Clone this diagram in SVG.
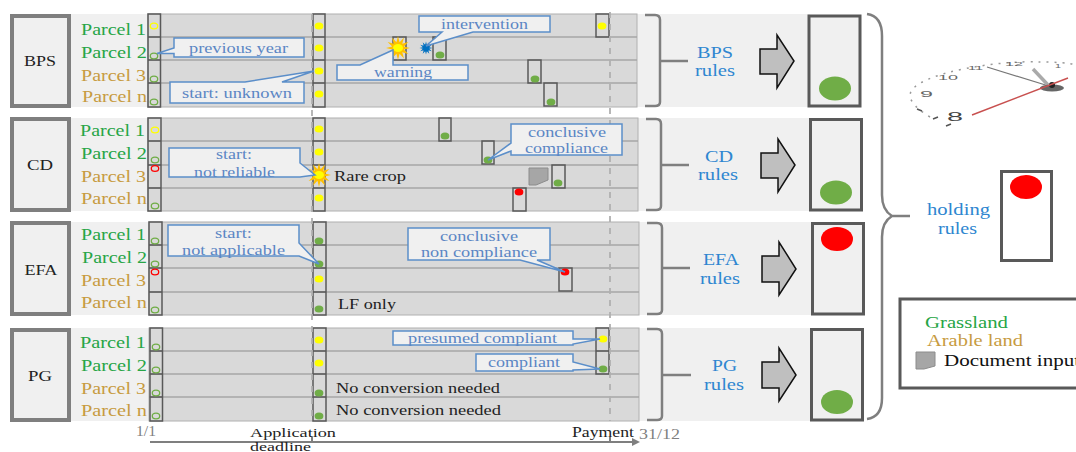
<svg xmlns="http://www.w3.org/2000/svg" width="1076" height="452" viewBox="0 0 1076 452">
<style>
text{font-family:"Liberation Serif","Times New Roman",serif;font-size:16px;letter-spacing:0}
.pn{fill:#f0f0f0}
.bar{fill:#d9d9d9;stroke:#b0b0b0;stroke-width:1}
.row{stroke:#a6a6a6;stroke-width:1.5;fill:none}
.head{fill:#f0f0f0;stroke:#7f7f7f;stroke-width:4}
.hl{fill:#222;font-size:15px;text-anchor:middle}
.g{fill:#27a546}.t{fill:#c79b3f}
.cell{fill:none;stroke:#595959;stroke-width:1.5}
.oy,.og,.or{fill:none;stroke-width:1.3;rx:3.7px;ry:2.9px}
.oy{stroke:#ffff00}.og{stroke:#70ad47}.or{stroke:#ff0000}
.y{fill:#ffff00}.gd{fill:#70ad47}.rd{fill:#ff0000}
.d{rx:4.4px;ry:3.6px}
.co{fill:#f0f0f0;stroke:#5b8ec9;stroke-width:1.5}
.ct{fill:#5b86c4;font-size:15.5px}
.bk{fill:#222;font-size:15px}
.tl{fill:#222;font-size:13px}
.dash{stroke:#b0b0b0;stroke-width:1.8;stroke-dasharray:6 6;fill:none}
.br{fill:none;stroke:#7f7f7f;stroke-width:2.5}
.ru{fill:#2e86d0;font-size:17px}
.ar{fill:#bfbfbf;stroke:#111;stroke-width:1.5}
.res{fill:#f0f0f0;stroke:#595959;stroke-width:3}
.gr{fill:#808080;font-size:14px}
.doc{fill:#a6a6a6;stroke:#8c8c8c;stroke-width:1}
.cn{font-family:"Liberation Sans",Arial,sans-serif;fill:#666}
</style>
<defs>
<polygon id="rays" points="12,0 5.800,1.550 10.400,6 4.240,4.240 6,10.400 1.550,5.800 0,12 -1.550,5.800 -6,10.400 -4.240,4.240 -10.400,6 -5.800,1.550 -12,0 -5.800,-1.550 -10.400,-6 -4.240,-4.240 -6,-10.400 -1.550,-5.800 0,-12 1.550,-5.800 6,-10.400 4.240,-4.240 10.400,-6 5.800,-1.550"/>
<g id="sun"><use href="#rays" fill="#ffc000"/><ellipse rx="5" ry="4" fill="#ffff00"/></g>
<g id="star"><use href="#rays" fill="#0070c0" transform="scale(.55)"/><circle r="3.200" fill="#0070c0"/></g>
</defs>
<rect width="1076" height="452" fill="#fff"/>

<g id="panel-bps">
<rect class="pn" x="10" y="14" width="800" height="93"/>
<rect class="bar" x="148" y="14" width="489" height="93"/>
<path class="row" d="M148 37H637M148 60H637M148 83H637"/>
<rect class="head" x="12" y="16" width="57" height="90"/>
<text class="hl" x="40" y="66" textLength="32" lengthAdjust="spacingAndGlyphs">BPS</text>
<text class="g" x="81" y="35" textLength="65" lengthAdjust="spacingAndGlyphs">Parcel 1</text>
<text class="g" x="81" y="58" textLength="66" lengthAdjust="spacingAndGlyphs">Parcel 2</text>
<text class="t" x="81" y="81" textLength="65" lengthAdjust="spacingAndGlyphs">Parcel 3</text>
<text class="t" x="82" y="102" textLength="65" lengthAdjust="spacingAndGlyphs">Parcel n</text>
<path class="cell" d="M148 14H160.500V107H148ZM148 37H160.500M148 60H160.500M148 83H160.500"/>
<path class="cell" d="M313 14H325V107H313ZM313 37H325M313 60H325M313 83H325"/>
<ellipse class="oy" cx="154" cy="26"/><ellipse class="og" cx="154" cy="56"/><ellipse class="og" cx="154" cy="79"/><ellipse class="og" cx="154" cy="102"/>
<ellipse class="y d" cx="319" cy="26"/><ellipse class="y d" cx="319" cy="48"/><ellipse class="y d" cx="319" cy="71"/><ellipse class="y d" cx="319" cy="94"/>
<rect class="cell" x="393" y="37" width="13" height="23"/><use href="#sun" x="398" y="48"/>
<use href="#star" x="426" y="48"/>
<rect class="cell" x="433" y="37" width="13" height="23"/><ellipse class="gd d" cx="440" cy="55"/>
<rect class="cell" x="596" y="14" width="13" height="23"/><ellipse class="y d" cx="602" cy="26"/>
<rect class="cell" x="528" y="60" width="13" height="23"/><ellipse class="gd d" cx="535" cy="79"/>
<rect class="cell" x="544" y="83" width="13" height="23"/><ellipse class="gd d" cx="551" cy="102"/>
</g>

<g id="panel-cd">
<rect class="pn" x="10" y="118" width="800" height="93"/>
<rect class="bar" x="148" y="118" width="490" height="93"/>
<path class="row" d="M148 141H638M148 165H638M148 188H638"/>
<rect class="head" x="12" y="119" width="57" height="91"/>
<text class="hl" x="40" y="170" textLength="26" lengthAdjust="spacingAndGlyphs">CD</text>
<text class="g" x="80" y="136" textLength="65" lengthAdjust="spacingAndGlyphs">Parcel 1</text>
<text class="g" x="81" y="159" textLength="66" lengthAdjust="spacingAndGlyphs">Parcel 2</text>
<text class="t" x="81" y="182" textLength="65" lengthAdjust="spacingAndGlyphs">Parcel 3</text>
<text class="t" x="81" y="204" textLength="66" lengthAdjust="spacingAndGlyphs">Parcel n</text>
<path class="cell" d="M148 118H161V211H148ZM148 141H161M148 165H161M148 188H161"/>
<path class="cell" d="M313 118H325V211H313ZM313 141H325M313 165H325M313 188H325"/>
<ellipse class="oy" cx="155" cy="130"/><ellipse class="og" cx="155" cy="160"/><ellipse class="or" cx="155" cy="168.500"/><ellipse class="og" cx="155" cy="206"/>
<ellipse class="y d" cx="319" cy="129"/><ellipse class="y d" cx="319" cy="152"/><ellipse class="y d" cx="319" cy="198"/>
<use href="#sun" x="319" y="175"/>
<text class="bk" x="334" y="181" textLength="72" lengthAdjust="spacingAndGlyphs">Rare crop</text>
<rect class="cell" x="439" y="118" width="12" height="23"/><ellipse class="gd d" cx="445" cy="136"/>
<rect class="cell" x="482" y="141" width="12" height="23"/><ellipse class="gd d" cx="488" cy="160"/>
<rect class="cell" x="552" y="165" width="13" height="23"/><ellipse class="gd d" cx="558" cy="183"/>
<rect class="cell" x="513" y="188" width="13" height="23"/><ellipse class="rd d" cx="519" cy="192"/>
<path class="doc" d="M529 168H548V180L536 185H529Z"/>
</g>

<g id="panel-efa">
<rect class="pn" x="10" y="222" width="802" height="93"/>
<rect class="bar" x="149" y="222" width="490" height="93"/>
<path class="row" d="M149 245H639M149 268H639M149 292H639"/>
<rect class="head" x="12" y="223" width="57" height="91"/>
<text class="hl" x="41" y="275" textLength="33" lengthAdjust="spacingAndGlyphs">EFA</text>
<text class="g" x="81" y="240" textLength="65" lengthAdjust="spacingAndGlyphs">Parcel 1</text>
<text class="g" x="82" y="263" textLength="65" lengthAdjust="spacingAndGlyphs">Parcel 2</text>
<text class="t" x="81" y="286" textLength="65" lengthAdjust="spacingAndGlyphs">Parcel 3</text>
<text class="t" x="81" y="308" textLength="66" lengthAdjust="spacingAndGlyphs">Parcel n</text>
<path class="cell" d="M149 222H162V315H149ZM149 245H162M149 268H162M149 292H162"/>
<path class="cell" d="M313 222H326V315H313ZM313 245H326M313 268H326M313 292H326"/>
<ellipse class="og" cx="155" cy="241"/><ellipse class="og" cx="155" cy="264"/><ellipse class="or" cx="155" cy="272"/><ellipse class="og" cx="155" cy="310"/>
<ellipse class="gd d" cx="319" cy="241"/><ellipse class="gd d" cx="319" cy="264"/><ellipse class="y d" cx="319" cy="279"/><ellipse class="gd d" cx="319" cy="309"/>
<rect class="cell" x="559" y="268" width="13" height="23"/><ellipse class="rd d" cx="565" cy="272"/>
<text class="bk" x="338" y="309" textLength="58" lengthAdjust="spacingAndGlyphs">LF only</text>
</g>

<g id="panel-pg">
<rect class="pn" x="10" y="328" width="802" height="93"/>
<rect class="bar" x="149" y="328" width="490" height="93"/>
<path class="row" d="M149 351H639M149 374H639M149 397H639"/>
<rect class="head" x="12" y="330" width="57" height="90"/>
<text class="hl" x="40" y="381" textLength="24" lengthAdjust="spacingAndGlyphs">PG</text>
<text class="g" x="80" y="348" textLength="66" lengthAdjust="spacingAndGlyphs">Parcel 1</text>
<text class="g" x="81" y="371" textLength="66" lengthAdjust="spacingAndGlyphs">Parcel 2</text>
<text class="t" x="81" y="394" textLength="65" lengthAdjust="spacingAndGlyphs">Parcel 3</text>
<text class="t" x="81" y="416" textLength="66" lengthAdjust="spacingAndGlyphs">Parcel n</text>
<path class="cell" d="M150 328H162.500V421H150ZM150 351H162.500M150 374H162.500M150 397H162.500"/>
<path class="cell" d="M313 328H326V421H313ZM313 351H326M313 374H326M313 397H326"/>
<ellipse class="og" cx="156" cy="347"/><ellipse class="og" cx="156" cy="370"/><ellipse class="og" cx="156" cy="393"/><ellipse class="og" cx="156" cy="416"/>
<ellipse class="y d" cx="319" cy="340"/><ellipse class="y d" cx="319" cy="363"/><ellipse class="gd d" cx="319" cy="393"/><ellipse class="gd d" cx="319" cy="416"/>
<path class="cell" d="M596 328H609V374H596ZM596 351H609"/>
<ellipse class="y d" cx="603" cy="339"/><ellipse class="gd d" cx="603" cy="369"/>
<text class="bk" x="336" y="393" textLength="164" lengthAdjust="spacingAndGlyphs">No conversion needed</text>
<text class="bk" x="336" y="415" textLength="165" lengthAdjust="spacingAndGlyphs">No conversion needed</text>
</g>

<g id="connectors">
<path class="dash" d="M312 14V421M610 12V421"/>
<path class="br" d="M645 15H655Q660 15 660 20V102Q660 106 655 106H645M660 61H688"/>
<path class="br" d="M646 119H656Q661 119 661 124V206Q661 210 656 210H646M661 165H689"/>
<path class="br" d="M647 223H657Q662 223 662 228V310Q662 314 657 314H647M662 268H690"/>
<path class="br" d="M647 329H657Q662 329 662 334V416Q662 420 657 420H647M662 375H691"/>
<path class="br" d="M867 14Q882 16 882 36V195Q882 210 892 216H910M892 216Q882 222 882 237V398Q882 417 867 419"/>
<path class="ar" d="M760 49H777V35L794 61L777 88V74H760Z"/>
<path class="ar" d="M761 153H778V139L795 165L778 192V178H761Z"/>
<path class="ar" d="M762 256H779V242L796 269L779 295V282H762Z"/>
<path class="ar" d="M762 362H779V348L796 375L779 401V388H762Z"/>
<path d="M150 442H634" stroke="#7f7f7f" stroke-width="2" fill="none"/>
<path d="M312 437V442M610 437V442" stroke="#7f7f7f" stroke-width="2" fill="none"/>
<path d="M632 438L640 442L632 446Z" fill="#7f7f7f"/>
</g>

<g id="callout-previous-year">
<path class="co" d="M174 38H304V57H174V53.500L157 53.500L174 48Z"/>
<text class="ct" x="189" y="53" textLength="99" lengthAdjust="spacingAndGlyphs">previous year</text>
</g>
<g id="callout-start-unknown">
<path class="co" d="M170 82H245L314 71L282 82H304V103H170Z"/>
<text class="ct" x="182" y="98" textLength="110" lengthAdjust="spacingAndGlyphs">start: unknown</text>
</g>
<g id="callout-warning">
<path class="co" d="M337 65H360L393 50V65H468V80H337Z"/>
<text class="ct" x="374" y="77" textLength="58" lengthAdjust="spacingAndGlyphs">warning</text>
</g>
<g id="callout-intervention">
<path class="co" d="M419 16H550V32H473L426 46L442 32H419Z"/>
<text class="ct" x="441" y="29" textLength="87" lengthAdjust="spacingAndGlyphs">intervention</text>
</g>
<g id="callout-not-reliable">
<path class="co" d="M169 148H300V163L315 175L300 177H169Z"/>
<text class="ct" x="216" y="159" textLength="36" lengthAdjust="spacingAndGlyphs">start:</text>
<text class="ct" x="194" y="177" textLength="81" lengthAdjust="spacingAndGlyphs">not reliable</text>
</g>
<g id="callout-conclusive-compliance">
<path class="co" d="M511 124H622V155H511V151L488 160L511 143Z"/>
<text class="ct" x="528" y="137" textLength="78" lengthAdjust="spacingAndGlyphs">conclusive</text>
<text class="ct" x="525" y="153" textLength="83" lengthAdjust="spacingAndGlyphs">compliance</text>
</g>
<g id="callout-not-applicable">
<path class="co" d="M168 225H299V243L319 264L299 256H168Z"/>
<text class="ct" x="215" y="238" textLength="37" lengthAdjust="spacingAndGlyphs">start:</text>
<text class="ct" x="182" y="255" textLength="103" lengthAdjust="spacingAndGlyphs">not applicable</text>
</g>
<g id="callout-non-compliance">
<path class="co" d="M408 228H550V260H537L565 272L520 260H408Z"/>
<text class="ct" x="440" y="241" textLength="78" lengthAdjust="spacingAndGlyphs">conclusive</text>
<text class="ct" x="421" y="257" textLength="116" lengthAdjust="spacingAndGlyphs">non compliance</text>
</g>
<g id="callout-presumed">
<path class="co" d="M393 331H573V339L600 339L573 344V345H393Z"/>
<text class="ct" x="408" y="343" textLength="149" lengthAdjust="spacingAndGlyphs">presumed compliant</text>
</g>
<g id="callout-compliant">
<path class="co" d="M476 354H573V362L600 369L573 370V371H476Z"/>
<text class="ct" x="488" y="367" textLength="72" lengthAdjust="spacingAndGlyphs">compliant</text>
</g>

<g id="rules-bps"><text class="ru" x="697" y="58" textLength="36" lengthAdjust="spacingAndGlyphs">BPS</text><text class="ru" x="695" y="76" textLength="40" lengthAdjust="spacingAndGlyphs">rules</text></g>
<g id="rules-cd"><text class="ru" x="705" y="162" textLength="28" lengthAdjust="spacingAndGlyphs">CD</text><text class="ru" x="698" y="180" textLength="40" lengthAdjust="spacingAndGlyphs">rules</text></g>
<g id="rules-efa"><text class="ru" x="703" y="265" textLength="36" lengthAdjust="spacingAndGlyphs">EFA</text><text class="ru" x="700" y="284" textLength="40" lengthAdjust="spacingAndGlyphs">rules</text></g>
<g id="rules-pg"><text class="ru" x="712" y="371" textLength="25" lengthAdjust="spacingAndGlyphs">PG</text><text class="ru" x="704" y="390" textLength="40" lengthAdjust="spacingAndGlyphs">rules</text></g>

<g id="result-bps"><rect class="res" x="809" y="16" width="51" height="90"/><ellipse class="gd" cx="835" cy="88.500" rx="16" ry="12"/></g>
<g id="result-cd"><rect class="res" x="810.500" y="119.500" width="51" height="90.500"/><ellipse class="gd" cx="836" cy="192.500" rx="16" ry="12"/></g>
<g id="result-efa"><rect class="res" x="812.500" y="223.500" width="51" height="90.500"/><ellipse class="rd" cx="837" cy="239" rx="16" ry="12"/></g>
<g id="result-pg"><rect class="res" x="811.500" y="329.500" width="51" height="90.500"/><ellipse class="gd" cx="837" cy="402" rx="16" ry="12"/></g>

<g id="clock">
<path d="M930 117C915 108 906 98 912 90C925 72 1000 60 1040 62C1055 62 1070 63 1076 65" fill="none" stroke="#999" stroke-width="1.500" stroke-dasharray="2 6"/>
<path d="M933 119L938 117M917 109L922 111M946 126L951 124" stroke="#555" stroke-width="1.500" fill="none"/>
<text class="cn" x="947" y="121" style="font-size:13px;fill:#444" textLength="16" lengthAdjust="spacingAndGlyphs">8</text>
<text class="cn" x="920" y="97" style="font-size:9px" textLength="13" lengthAdjust="spacingAndGlyphs">9</text>
<text class="cn" x="938" y="80" style="font-size:8px" textLength="20" lengthAdjust="spacingAndGlyphs">10</text>
<text class="cn" x="968" y="70" style="font-size:6px" textLength="15" lengthAdjust="spacingAndGlyphs">11</text>
<text class="cn" x="1005" y="66" style="font-size:5px" textLength="18" lengthAdjust="spacingAndGlyphs">12</text>
<text class="cn" x="1055" y="68" style="font-size:5px" textLength="6" lengthAdjust="spacingAndGlyphs">1</text>
<path d="M987 67L1052 87" stroke="#777" stroke-width="1.200" fill="none"/>
<path d="M1033 69L1048 85" stroke="#aaa" stroke-width="3.500" fill="none"/>
<ellipse cx="1052" cy="88" rx="12" ry="3.500" fill="#666"/>
<circle cx="1052" cy="85" r="3" fill="#222"/>
<path d="M972 115L1068 78" stroke="#c8504f" stroke-width="1.500" fill="none"/>
</g>

<g id="holding">
<text class="ru" x="927" y="215" textLength="63" lengthAdjust="spacingAndGlyphs">holding</text><text class="ru" x="938" y="234" textLength="39" lengthAdjust="spacingAndGlyphs">rules</text>
<rect x="1001.500" y="171.500" width="50" height="89" fill="#fff" stroke="#595959" stroke-width="3"/>
<ellipse class="rd" cx="1026" cy="187" rx="16" ry="12"/>
</g>

<g id="legend">
<rect x="900" y="299" width="190" height="89" fill="#fff" stroke="#595959" stroke-width="3"/>
<text class="g" x="925" y="328" textLength="83" lengthAdjust="spacingAndGlyphs">Grassland</text>
<text class="t" x="927" y="346" textLength="96" lengthAdjust="spacingAndGlyphs">Arable land</text>
<path class="doc" d="M916 352H935V366L924 369H916Z"/>
<text x="944" y="366" fill="#111" textLength="136" lengthAdjust="spacingAndGlyphs">Document input</text>
</g>

<g id="timeline-labels">
<text class="gr" x="136" y="436" textLength="20" lengthAdjust="spacingAndGlyphs">1/1</text>
<text class="tl" x="250" y="437" textLength="86" lengthAdjust="spacingAndGlyphs">Application</text>
<text class="tl" x="250" y="451" textLength="61" lengthAdjust="spacingAndGlyphs">deadline</text>
<text class="bk" x="572" y="437" textLength="62" lengthAdjust="spacingAndGlyphs">Payment</text>
<text class="gr" x="639" y="439" textLength="41" lengthAdjust="spacingAndGlyphs">31/12</text>
</g>
</svg>
